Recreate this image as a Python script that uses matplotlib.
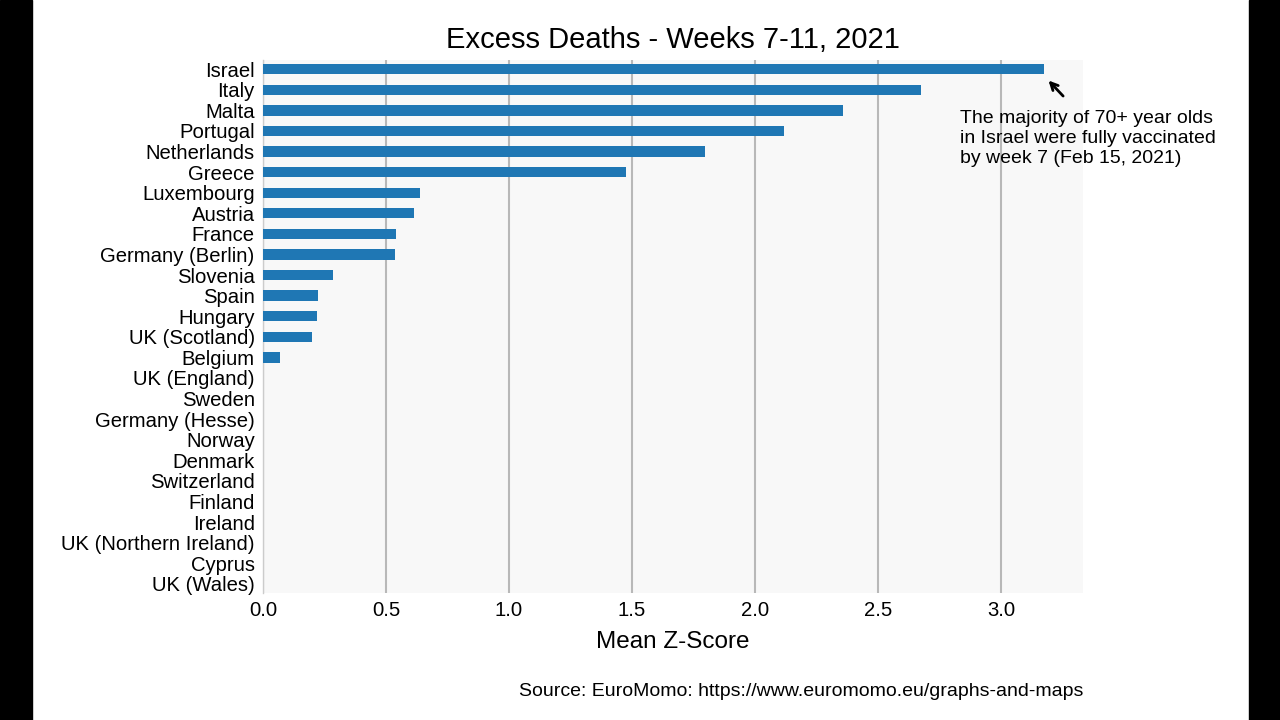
import matplotlib
matplotlib.use("Agg")
import matplotlib.pyplot as plt
from matplotlib.patches import Rectangle

plt.rcParams['font.family'] = ['Liberation Sans', 'DejaVu Sans']

# Mean Z-score per country, weeks 7-11 2021
countries = ['Israel', 'Italy', 'Malta', 'Portugal', 'Netherlands', 'Greece',
             'Luxembourg', 'Austria', 'France', 'Germany (Berlin)', 'Slovenia',
             'Spain', 'Hungary', 'UK (Scotland)', 'Belgium', 'UK (England)',
             'Sweden', 'Germany (Hesse)', 'Norway', 'Denmark', 'Switzerland',
             'Finland', 'Ireland', 'UK (Northern Ireland)', 'Cyprus', 'UK (Wales)']
zscores = [3.175, 2.675, 2.358, 2.118, 1.797, 1.476,
           0.638, 0.614, 0.541, 0.537, 0.285,
           0.224, 0.220, 0.199, 0.069, 0.0,
           0.0, 0.0, 0.0, 0.0, 0.0,
           0.0, 0.0, 0.0, 0.0, 0.0]
xticks = [0.0, 0.5, 1.0, 1.5, 2.0, 2.5, 3.0]

fig = plt.figure(figsize=(12.8, 7.2), dpi=100)
ax = fig.add_axes([263 / 1280, 1 - 593 / 720, 820 / 1280, 533 / 720])

pos = list(range(len(countries)))
ax.barh(pos, zscores, height=0.5, color='#1f77b4', zorder=3)
ax.set_ylim(len(countries) - 0.55, -0.45)
ax.set_xlim(0, 3.333)

ax.set_facecolor('#f8f8f8')
ax.set_yticks(pos)
ax.set_yticklabels(countries, fontsize=14.6)
ax.set_xticks(xticks)
ax.set_xticklabels([f'{t:.1f}' for t in xticks], fontsize=14.6)
ax.tick_params(length=0, pad=6)
ax.xaxis.grid(True, color='#b8b8b8', linewidth=1.5, zorder=0)
for side in ['top', 'right', 'bottom']:
    ax.spines[side].set_visible(False)
ax.spines['left'].set_color('#cccccc')
ax.spines['left'].set_linewidth(1)

ax.set_title('Excess Deaths - Weeks 7-11, 2021', fontsize=21, pad=9)
ax.set_xlabel('Mean Z-Score', fontsize=17.5, labelpad=8)

# annotation about Israel
ax.text(960 / 1280, 1 - 110 / 720,
        'The majority of 70+ year olds\nin Israel were fully vaccinated\nby week 7 (Feb 15, 2021)',
        transform=fig.transFigure, fontsize=14, va='top', ha='left',
        linespacing=1.22)
ax.annotate('', xy=(zscores[0] + 0.01, 0.45), xytext=(3.26, 1.4),
            arrowprops=dict(arrowstyle='->', color='black', lw=2,
                            mutation_scale=13),
            annotation_clip=False)

fig.text(1083 / 1280, 1 - 692 / 720,
         'Source: EuroMomo: https://www.euromomo.eu/graphs-and-maps',
         ha='right', va='center', fontsize=14.0)

# black side bars like the video frame
fig.patches.append(Rectangle((0, 0), 32 / 1280, 1, transform=fig.transFigure,
                             color='black', zorder=10))
fig.patches.append(Rectangle((1249 / 1280, 0), 31 / 1280, 1, transform=fig.transFigure,
                             color='black', zorder=10))

plt.savefig('out.png', dpi=100)
